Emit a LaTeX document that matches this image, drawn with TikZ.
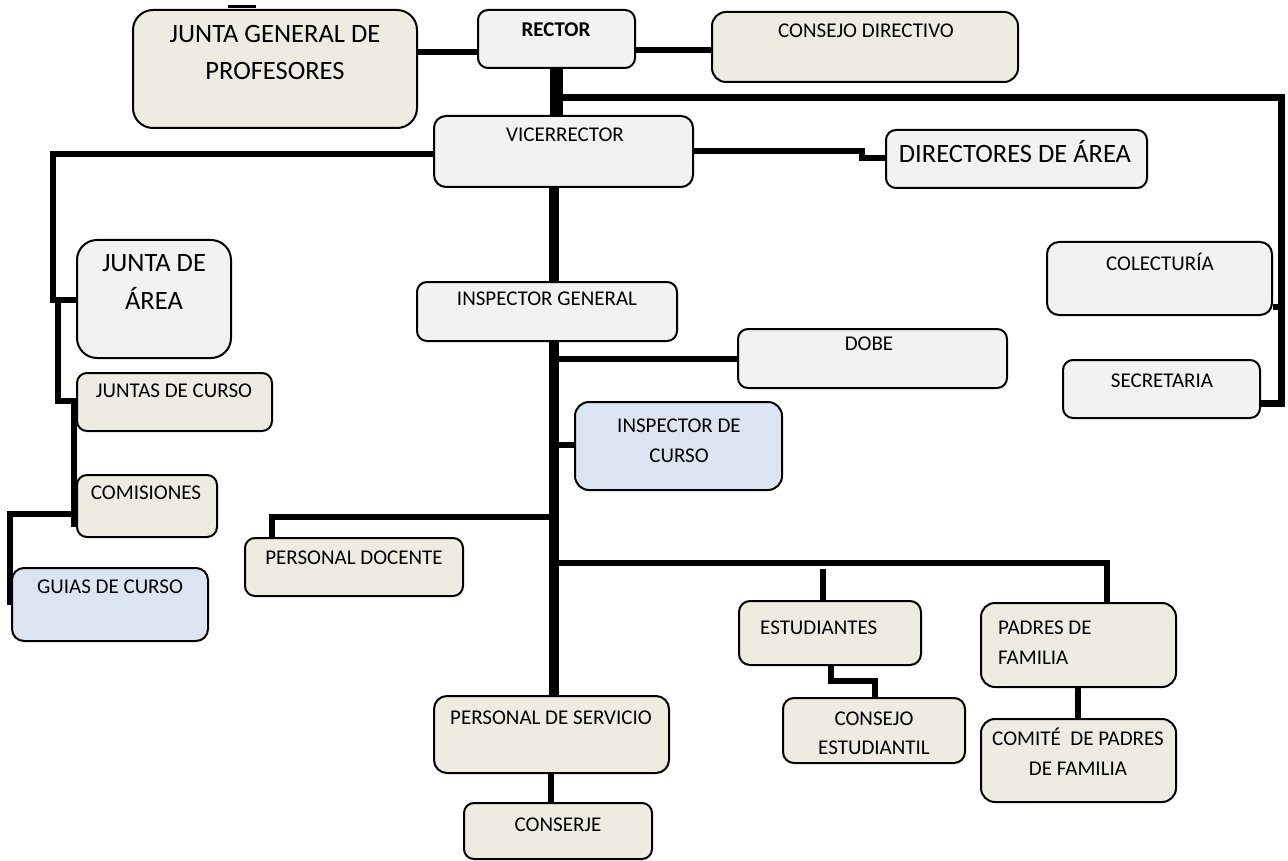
\documentclass[tikz,border=0pt]{standalone}
\usepackage{fontspec}
\setmainfont{Carlito}
\usetikzlibrary{calc}
\pgfdeclarelayer{bg}
\pgfsetlayers{bg,main}
\definecolor{beige}{HTML}{EEECE1}
\definecolor{lgray}{HTML}{F2F2F2}
\definecolor{lblue}{HTML}{DBE5F1}
\begin{document}
\begin{tikzpicture}[x=1pt,y=-1pt,
  box/.style={draw=black,line width=2pt,inner sep=0pt},
  tx/.style={anchor=base,inner sep=0pt,font=\fontsize{21}{30}\selectfont},
  tbig/.style={anchor=base,inner sep=0pt,font=\fontsize{26.5}{36}\selectfont},
  ln/.style={line width=6pt,line join=miter},
  lnw/.style={line width=7pt,line join=miter},
  spinetop/.style={line width=13pt},
  spine/.style={line width=10pt}]
\useasboundingbox (0,0) rectangle (1288,861);

% boxes
\node[box,fill=beige,rounded corners=20pt,minimum width=284pt,minimum height=118pt] (jgp) at (275,69) {};
\node[box,fill=lgray,rounded corners=10pt,minimum width=157pt,minimum height=58pt] (rector) at (556.5,39) {};
\node[box,fill=beige,rounded corners=14pt,minimum width=306pt,minimum height=70pt] (cd) at (865,47) {};
\node[box,fill=lgray,rounded corners=12pt,minimum width=259pt,minimum height=71pt] (vice) at (563.5,151.5) {};
\node[box,fill=lgray,rounded corners=10pt,minimum width=261pt,minimum height=58pt] (dir) at (1016.5,159) {};
\node[box,fill=lgray,rounded corners=20pt,minimum width=154pt,minimum height=118pt] (jda) at (154,299) {};
\node[box,fill=lgray,rounded corners=10pt,minimum width=260pt,minimum height=59pt] (ig) at (547,311.5) {};
\node[box,fill=lgray,rounded corners=10pt,minimum width=269pt,minimum height=59pt] (dobe) at (872.5,358.5) {};
\node[box,fill=lgray,rounded corners=12pt,minimum width=225pt,minimum height=73pt] (colect) at (1159.5,278.5) {};
\node[box,fill=lgray,rounded corners=10pt,minimum width=197pt,minimum height=58pt] (secr) at (1161.5,389) {};
\node[box,fill=beige,rounded corners=10pt,minimum width=195pt,minimum height=58pt] (juntas) at (174.5,402) {};
\node[box,fill=lblue,rounded corners=14pt,minimum width=207pt,minimum height=88pt] (idc) at (678.5,446) {};
\node[box,fill=beige,rounded corners=10pt,minimum width=140pt,minimum height=62pt] (comis) at (147,506) {};
\node[box,fill=beige,rounded corners=10pt,minimum width=218pt,minimum height=58pt] (pd) at (354,567) {};
\node[box,fill=lblue,rounded corners=12pt,minimum width=196pt,minimum height=73pt] (guias) at (110,604.5) {};
\node[box,fill=beige,rounded corners=11pt,minimum width=182pt,minimum height=64pt] (est) at (830,633) {};
\node[box,fill=beige,rounded corners=11pt,minimum width=182pt,minimum height=65pt] (ce) at (874,730.5) {};
\node[box,fill=beige,rounded corners=14pt,minimum width=195pt,minimum height=84pt] (padres) at (1078.5,645) {};
\node[box,fill=beige,rounded corners=14pt,minimum width=195pt,minimum height=83pt] (comite) at (1078.5,760.5) {};
\node[box,fill=beige,rounded corners=13pt,minimum width=235pt,minimum height=77pt] (pds) at (551.5,734.5) {};
\node[box,fill=beige,rounded corners=10pt,minimum width=188pt,minimum height=56pt] (conserje) at (558,831) {};

% texts
\node[tbig] (jgp1) at (275,43) {JUNTA GENERAL DE};
\node[tbig] (jgp2) at (275,80) {PROFESORES};
\node[tx,font=\fontsize{21}{30}\selectfont\bfseries] (rect1) at (556,37) {RECTOR};
\node[tx] (cd1) at (866,38) {CONSEJO DIRECTIVO};
\node[tx] (vice1) at (565,142) {VICERRECTOR};
\node[tbig] (dir1) at (1015,163) {DIRECTORES DE ÁREA};
\node[tbig] (jda1) at (154,272) {JUNTA DE};
\node[tbig] (jda2) at (154,309) {ÁREA};
\node[tx] (ig1) at (547,305) {INSPECTOR GENERAL};
\node[tx] (dobe1) at (869,350) {DOBE};
\node[tx] (col1) at (1160,270) {COLECTURÍA};
\node[tx] (sec1) at (1162,387) {SECRETARIA};
\node[tx] (jc1) at (174,397) {JUNTAS DE CURSO};
\node[tx] (idc1) at (679,432) {INSPECTOR DE};
\node[tx] (idc2) at (679,462) {CURSO};
\node[tx] (com1) at (146,499) {COMISIONES};
\node[tx] (pd1) at (354,564) {PERSONAL DOCENTE};
\node[tx] (gc1) at (110,593) {GUIAS DE CURSO};
\node[tx,anchor=base west] (est1) at (760,634) {ESTUDIANTES};
\node[tx] (ce1) at (874,725) {CONSEJO};
\node[tx] (ce2) at (874,754) {ESTUDIANTIL};
\node[tx,anchor=base west] (pf1) at (998,634) {PADRES DE};
\node[tx,anchor=base west] (pf2) at (998,664) {FAMILIA};
\node[tx] (cp1) at (1078,745) {COMITÉ\ \ DE PADRES};
\node[tx] (cp2) at (1078,775) {DE FAMILIA};
\node[tx] (pds1) at (551,724) {PERSONAL DE SERVICIO};
\node[tx] (cs1) at (558,831) {CONSERJE};

\begin{pgfonlayer}{bg}
% top mark
\draw[line width=3pt] (228,7) -- (256,7);
% rector links
\draw[ln] (jgp.east |- 0,52) -- (rector.west |- 0,52);
\draw[ln] (rector.east |- 0,50) -- (cd.west |- 0,50);
\draw[spinetop] (556,0 |- rector.south) -- (556,0 |- vice.north);
% right branch
\draw[lnw] (556,98) -- (1281,98) -- (1281,403) -- (secr.east |- 0,403);
\draw[ln] (colect.east |- 0,307) -- (1281,307);
% vice -> directores
\draw[ln] (vice.east |- 0,151) -- (862,151) -- (862,158) -- (dir.west |- 0,158);
% left branch
\draw[ln] (vice.west |- 0,154) -- (52.5,154) -- (52.5,300) -- (jda.west |- 0,300);
\draw[ln] (57.5,300) -- (57.5,401) -- (juntas.west |- 0,401);
\draw[ln] (74,401) -- (74,527);
\draw[ln] (74,514) -- (10,514) -- (10,0 |- guias.west);
% central spine
\draw[spine] (554,0 |- vice.south) -- (554,0 |- ig.north);
\draw[spine] (553.5,0 |- ig.south) -- (553.5,0 |- pds.north);
\draw[ln] (553,359) -- (dobe.west |- 0,359);
\draw[ln] (553,445) -- (idc.west |- 0,445);
\draw[ln] (553,517) -- (272,517) -- (272,0 |- pd.north);
\draw[ln] (553,563) -- (1107,563) -- (1107,0 |- padres.north);
\draw[ln] (823,569) -- (823,0 |- est.north);
\draw[ln] (831,0 |- est.south) -- (831,681) -- (875,681) -- (875,0 |- ce.north);
\draw[ln] (1078,0 |- padres.south) -- (1078,0 |- comite.north);
\draw[ln] (551,0 |- pds.south) -- (551,0 |- conserje.north);
\end{pgfonlayer}
\end{tikzpicture}
\end{document}
